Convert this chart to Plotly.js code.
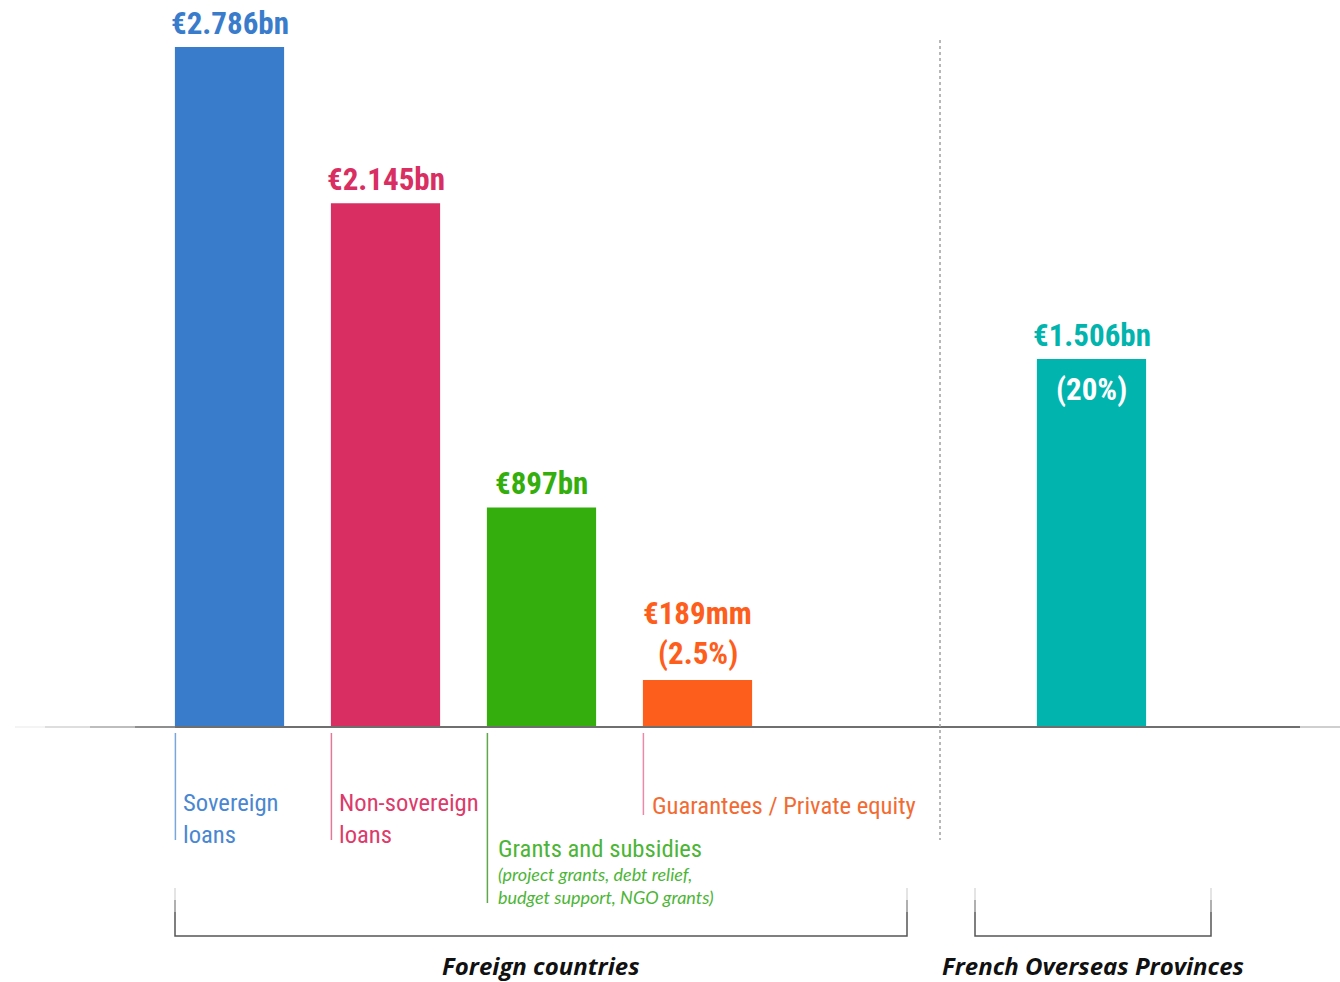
<!DOCTYPE html>
<html>
<head>
<meta charset="utf-8">
<script src="https://cdn.plot.ly/plotly-3.0.1.min.js"></script>
<style>html,body{margin:0;padding:0;background:#fff;}#chart{width:1340px;height:982px;}</style>
</head>
<body>
<div id="chart"></div>
<script>
// ---- data ----
const foreignCategories = ['Sovereign<br>loans', 'Non-sovereign<br>loans', 'Grants and subsidies', 'Guarantees / Private equity'];
const foreignValues = [2786, 2145, 897, 189];
const foreignValueLabels = ['€2.786bn', '€2.145bn', '€897bn', '€189mm'];
const foreignShareLabels = ['', '', '', '(2.5%)'];
const grantsNote = '(project grants, debt relief,<br>budget support, NGO grants)';
const overseasCategories = ['French Overseas Provinces'];
const overseasValues = [1506];
const overseasValueLabels = ['€1.506bn'];
const overseasShareLabels = ['(20%)'];
const groupLabels = ['Foreign countries', 'French Overseas Provinces'];

// ---- styles ----
const W = 1340, H = 982;
const barColors = ['#3a7ccc', '#d92e62', '#33ae0c', '#fe5e1c'];
const overseasColor = '#01b4ad';
const labelColors = ['#4a87d2', '#dc3b6b', '#4cb536', '#f26b33'];
const tickLineColors = ['#7aa6dc', '#e07a98', '#5ea84a', '#e98aa8'];
const px = x => x / W;          // pixel -> paper x
const py = y => 1 - y / H;      // pixel -> paper y

// pick the narrowest installed condensed family
const cv = document.createElement('canvas').getContext('2d');
function measure(font, txt) { cv.font = font; return cv.measureText(txt).width; }
function installed(name) {
  const t = 'mmmmmwwwwwlllii0123';
  return ['monospace', 'serif'].some(b => measure(`72px "${name}", ${b}`, t) !== measure(`72px ${b}`, t));
}
const condensedCandidates = ['Roboto Condensed', 'Liberation Sans Narrow', 'Noto Sans Condensed', 'DejaVu Sans Condensed', 'Liberation Sans'];
const narrow = condensedCandidates.find(installed) || 'sans-serif';
const narrowFamily = `"${narrow}", sans-serif`;
function fit(txt, weight, target) { return 100 * target / measure(`${weight} 100px ${narrowFamily}`, txt); }
const valueSize = Math.min(40, fit('€2.786bn', 'bold', 118));
const labelSize = Math.min(28, fit('Guarantees / Private equity', 'normal', 264));

const catW = 156;
const xDom1 = [151.5, 151.5 + 4 * catW];
const xDom2 = [1013.5, 1013.5 + catW];
const baseY = 726;

const traces = [
  {type: 'bar', x: foreignCategories, y: foreignValues, xaxis: 'x', yaxis: 'y',
   marker: {color: barColors, line: {width: 0}}, hoverinfo: 'skip'},
  {type: 'bar', x: overseasCategories, y: overseasValues, xaxis: 'x2', yaxis: 'y',
   marker: {color: overseasColor, line: {width: 0}}, hoverinfo: 'skip'}
];

const annotations = [];
const shapes = [];
const vFont = c => ({family: narrowFamily, size: valueSize, color: c, weight: 700});

// value labels
foreignCategories.forEach((c, i) => {
  const hasShare = foreignShareLabels[i] !== '';
  annotations.push({xref: 'x', yref: 'y', x: c, y: foreignValues[i], text: foreignValueLabels[i],
    showarrow: false, yanchor: 'bottom', yshift: hasShare ? 46 : 3, font: vFont(barColors[i])});
  if (hasShare) {
    annotations.push({xref: 'x', yref: 'y', x: c, y: foreignValues[i], text: foreignShareLabels[i],
      showarrow: false, yanchor: 'bottom', yshift: 6, font: vFont(barColors[i])});
  }
});
overseasCategories.forEach((c, i) => {
  annotations.push({xref: 'x2', yref: 'y', x: c, y: overseasValues[i], text: overseasValueLabels[i],
    showarrow: false, yanchor: 'bottom', yshift: 3, font: vFont(overseasColor)});
  annotations.push({xref: 'x2', yref: 'y', x: c, y: overseasValues[i], text: overseasShareLabels[i],
    showarrow: false, yanchor: 'top', yshift: -10, font: vFont('#ffffff')});
});

// category labels below the baseline, with thin marker lines
const labelMid = [818, 818, 848, 805];
const lineBottom = [840, 840, 903, 815];
const textOffset = [7, 7, 10, 8];
foreignCategories.forEach((c, i) => {
  const left = xDom1[0] + i * catW + catW * 0.15;
  shapes.push({type: 'line', xref: 'paper', yref: 'paper', x0: px(left + 0.5), x1: px(left + 0.5),
    y0: py(733), y1: py(lineBottom[i]), line: {color: tickLineColors[i], width: 1.5}});
  annotations.push({xref: 'paper', yref: 'paper', x: px(left + textOffset[i]), y: py(labelMid[i]),
    xanchor: 'left', yanchor: 'middle', align: 'left', showarrow: false, text: c, borderpad: 0,
    font: {family: narrowFamily, size: labelSize, color: labelColors[i]}});
});
{
  const left = xDom1[0] + 2 * catW + catW * 0.15;
  annotations.push({xref: 'paper', yref: 'paper', x: px(left + 10), y: py(885.5),
    xanchor: 'left', yanchor: 'middle', align: 'left', showarrow: false, text: grantsNote, borderpad: 0,
    font: {family: 'Lato, Open Sans, sans-serif', size: 18, style: 'italic', color: labelColors[2]}});
}

// baseline with faded left end
const fade = [['#f4f4f4', 15, 45], ['#dedede', 45, 90], ['#bdbdbd', 90, 135], ['#8e8e8e', 135, 175], ['#6f6f6f', 175, 1300], ['#cfcfcf', 1300, 1340]];
fade.forEach(f => shapes.push({type: 'line', xref: 'paper', yref: 'paper', x0: px(f[1]), x1: px(f[2]),
  y0: py(baseY + 1), y1: py(baseY + 1), line: {color: f[0], width: 2}}));

// dotted separator
shapes.push({type: 'line', xref: 'paper', yref: 'paper', x0: px(940), x1: px(940), y0: py(40), y1: py(840),
  line: {color: '#a0a0a0', width: 1.5, dash: 'dot'}});

// group brackets
const brackets = [[175, 907], [975, 1211]];
brackets.forEach((b, j) => {
  shapes.push({type: 'path', xref: 'paper', yref: 'paper',
    path: `M ${px(b[0])} ${py(892)} L ${px(b[0])} ${py(936)} L ${px(b[1])} ${py(936)} L ${px(b[1])} ${py(892)}`,
    line: {color: '#555555', width: 1.5}});
  [b[0], b[1]].forEach(x => {
    shapes.push({type: 'line', xref: 'paper', yref: 'paper', x0: px(x), x1: px(x), y0: py(888), y1: py(900),
      line: {color: '#e4e4e4', width: 2}});
    shapes.push({type: 'line', xref: 'paper', yref: 'paper', x0: px(x), x1: px(x), y0: py(900), y1: py(912),
      line: {color: '#b0b0b0', width: 2}});
  });
  annotations.push({xref: 'paper', yref: 'paper', x: px(j === 0 ? 541 : 1093), y: py(965),
    xanchor: 'center', yanchor: 'middle', showarrow: false, text: groupLabels[j], borderpad: 0,
    font: {family: '"Open Sans", Lato, sans-serif', size: 24, style: 'italic', weight: 700, color: '#111111'}});
});

const layout = {
  width: W, height: H,
  margin: {l: 0, r: 0, t: 0, b: 0, pad: 0},
  paper_bgcolor: '#ffffff', plot_bgcolor: 'rgba(0,0,0,0)',
  showlegend: false, bargap: 0.3,
  xaxis: {domain: [px(xDom1[0]), px(xDom1[1])], range: [-0.5, 3.5], type: 'category', visible: false, fixedrange: true},
  xaxis2: {domain: [px(xDom2[0]), px(xDom2[1])], range: [-0.5, 0.5], type: 'category', visible: false, anchor: 'y', fixedrange: true},
  yaxis: {domain: [py(baseY), 1], range: [0, 2979], visible: false, fixedrange: true},
  shapes: shapes,
  annotations: annotations
};

Plotly.newPlot('chart', traces, layout, {staticPlot: true, displayModeBar: false});
</script>
</body>
</html>
